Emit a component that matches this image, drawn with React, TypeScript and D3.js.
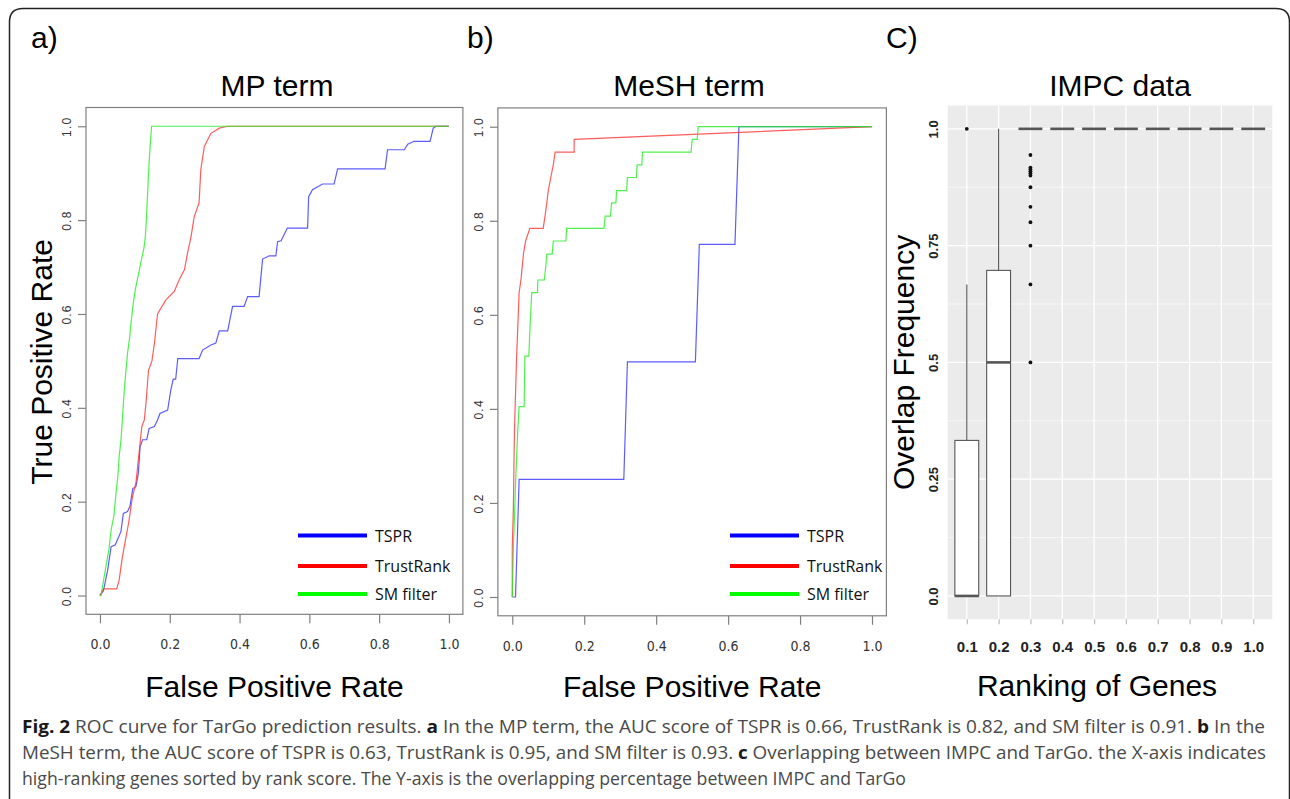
import React, { useEffect, useRef } from 'react';
import * as d3 from 'd3';

// ROC points [false positive rate, true positive rate], MP term
const mpTSPR = [
  [0, 0], [0.01, 0.01], [0.022, 0.054], [0.032, 0.104], [0.044, 0.108], [0.06, 0.136], [0.067, 0.175],
  [0.079, 0.179], [0.086, 0.19], [0.094, 0.228], [0.103, 0.232], [0.11, 0.261], [0.115, 0.317],
  [0.122, 0.332], [0.134, 0.332], [0.141, 0.356], [0.156, 0.36], [0.165, 0.374], [0.172, 0.388],
  [0.194, 0.395], [0.203, 0.438], [0.21, 0.461], [0.217, 0.461], [0.223, 0.505], [0.284, 0.505],
  [0.294, 0.523], [0.318, 0.534], [0.332, 0.538], [0.342, 0.564], [0.366, 0.564], [0.38, 0.616],
  [0.413, 0.616], [0.423, 0.637], [0.456, 0.637], [0.466, 0.717], [0.485, 0.724], [0.504, 0.724],
  [0.509, 0.754], [0.519, 0.756], [0.537, 0.783], [0.595, 0.783], [0.598, 0.85], [0.609, 0.865],
  [0.638, 0.877], [0.671, 0.877], [0.681, 0.909], [0.817, 0.909], [0.824, 0.95], [0.872, 0.95],
  [0.882, 0.962], [0.9, 0.968], [0.946, 0.968], [0.955, 0.996], [0.963, 1], [1, 1],
];
const mpTrustRank = [
  [0, 0], [0.01, 0.014], [0.048, 0.014], [0.055, 0.033], [0.063, 0.076], [0.073, 0.118], [0.082, 0.154],
  [0.093, 0.21], [0.103, 0.24], [0.11, 0.289], [0.115, 0.325], [0.12, 0.36], [0.127, 0.374],
  [0.132, 0.41], [0.139, 0.48], [0.149, 0.5], [0.156, 0.537], [0.165, 0.6], [0.189, 0.63],
  [0.213, 0.648], [0.227, 0.673], [0.242, 0.694], [0.251, 0.73], [0.261, 0.765], [0.27, 0.807],
  [0.284, 0.837], [0.289, 0.907], [0.299, 0.957], [0.318, 0.985], [0.342, 0.996], [0.366, 1], [1, 1],
];
const mpSMFilter = [
  [0, 0], [0.003, 0], [0.012, 0.04], [0.022, 0.083], [0.026, 0.1], [0.032, 0.14], [0.04, 0.17],
  [0.046, 0.218], [0.052, 0.26], [0.055, 0.296], [0.06, 0.33], [0.063, 0.36], [0.068, 0.42],
  [0.073, 0.467], [0.079, 0.516], [0.085, 0.55], [0.089, 0.581], [0.095, 0.62], [0.101, 0.651],
  [0.113, 0.694], [0.12, 0.72], [0.126, 0.74], [0.13, 0.765], [0.133, 0.8], [0.137, 0.865],
  [0.141, 0.925], [0.144, 0.96], [0.148, 1], [1, 1],
];

// MeSH term
const meshTSPR = [
  [0, 0], [0.009, 0], [0.019, 0.25], [0.31, 0.25], [0.32, 0.5], [0.509, 0.5], [0.52, 0.75],
  [0.619, 0.75], [0.63, 1], [1, 1],
];
const meshTrustRank = [
  [0, 0], [0, 0.107], [0.003, 0.189], [0.006, 0.351], [0.008, 0.405], [0.012, 0.511], [0.015, 0.568],
  [0.019, 0.647], [0.024, 0.674], [0.031, 0.729], [0.037, 0.757], [0.049, 0.784], [0.086, 0.784],
  [0.091, 0.81], [0.096, 0.838], [0.1, 0.864], [0.107, 0.892], [0.114, 0.919], [0.119, 0.946],
  [0.172, 0.946], [0.172, 0.973], [1, 1],
];
const meshSMFilter = [
  [0, 0], [0.003, 0.107], [0.007, 0.189], [0.009, 0.24], [0.015, 0.351], [0.019, 0.405], [0.033, 0.405],
  [0.035, 0.512], [0.046, 0.512], [0.049, 0.568], [0.054, 0.647], [0.07, 0.647], [0.071, 0.674],
  [0.089, 0.674], [0.093, 0.702], [0.096, 0.729], [0.111, 0.729], [0.114, 0.757], [0.149, 0.757],
  [0.151, 0.784], [0.255, 0.784], [0.258, 0.81], [0.273, 0.81], [0.276, 0.838], [0.288, 0.838],
  [0.29, 0.864], [0.318, 0.864], [0.32, 0.892], [0.345, 0.892], [0.347, 0.919], [0.36, 0.919],
  [0.362, 0.946], [0.497, 0.946], [0.5, 0.973], [0.514, 0.973], [0.517, 1], [1, 1],
];

const rocTicks = [0, 0.2, 0.4, 0.6, 0.8, 1.0];
const seriesNames = ['TSPR', 'TrustRank', 'SM filter'];
const curveColors = ['#3333ff', '#ff3333', '#22ee22'];
const legendColors = ['#0000ff', '#ff0000', '#00ff00'];

// IMPC boxplot, one entry per ranking bin
const rankLabels = ['0.1', '0.2', '0.3', '0.4', '0.5', '0.6', '0.7', '0.8', '0.9', '1.0'];
const boxLow = [0, 0, 1, 1, 1, 1, 1, 1, 1, 1];
const boxQ1 = [0, 0, 1, 1, 1, 1, 1, 1, 1, 1];
const boxMedian = [0, 0.5, 1, 1, 1, 1, 1, 1, 1, 1];
const boxQ3 = [0.333, 0.697, 1, 1, 1, 1, 1, 1, 1, 1];
const boxHigh = [0.667, 1, 1, 1, 1, 1, 1, 1, 1, 1];
const boxOutliers = [
  [1], [],
  [0.5, 0.667, 0.75, 0.8, 0.833, 0.875, 0.9, 0.905, 0.909, 0.913, 0.917, 0.944],
  [], [], [], [], [], [], [],
];
const overlapTicks = [0, 0.25, 0.5, 0.75, 1];
const overlapMinor = [0.125, 0.375, 0.625, 0.875];

const W = 1290;
const H = 799;
const SANS = 'Liberation Sans, Arial, sans-serif';

function drawRoc(svg, o) {
  const x = d3.scaleLinear().domain([-0.04, 1.04]).range([o.left, o.right]);
  const y = d3.scaleLinear().domain([-0.04, 1.04]).range([o.bottom, o.top]);
  const g = svg.append('g');

  const line = d3.line<number[]>().x((d) => x(d[0])).y((d) => y(d[1]));
  o.series.forEach((s, i) => {
    g.append('path')
      .datum(s)
      .attr('fill', 'none')
      .attr('stroke', curveColors[i])
      .attr('stroke-opacity', 0.8)
      .attr('stroke-width', 1.2)
      .attr('d', line);
  });

  g.append('rect')
    .attr('x', o.left).attr('y', o.top)
    .attr('width', o.right - o.left).attr('height', o.bottom - o.top)
    .attr('fill', 'none').attr('stroke', '#808080').attr('stroke-width', 1.2);

  // x axis
  const xa = g.append('g')
    .attr('transform', `translate(0,${o.bottom})`)
    .call(d3.axisBottom(x).tickValues(rocTicks).tickSize(9).tickPadding(16).tickFormat(d3.format('.1f')));
  xa.select('.domain').remove();
  xa.selectAll('line').attr('stroke', '#808080').attr('stroke-width', 1.2);
  xa.selectAll('text')
    .attr('font-family', 'Liberation Sans Narrow, DejaVu Sans Condensed, sans-serif')
    .attr('font-size', 14).attr('fill', '#333');

  // y axis, labels parallel to the axis
  const ya = g.append('g')
    .attr('transform', `translate(${o.left},0)`)
    .call(d3.axisLeft(y).tickValues(rocTicks).tickSize(8).tickFormat(d3.format('.1f')));
  ya.select('.domain').remove();
  ya.selectAll('line').attr('stroke', '#808080').attr('stroke-width', 1.2);
  ya.selectAll('text')
    .attr('transform', 'rotate(-90)')
    .attr('x', 0).attr('y', -15).attr('dy', 0)
    .attr('text-anchor', 'middle')
    .attr('font-family', SANS).attr('font-size', 12)
    .attr('letter-spacing', 1.2).attr('fill', '#333');

  // titles
  g.append('text').attr('x', o.tagX).attr('y', 48).attr('font-family', SANS).attr('font-size', 30).text(o.tag);
  g.append('text').attr('x', o.titleX).attr('y', 96).attr('text-anchor', 'middle')
    .attr('font-family', SANS).attr('font-size', 30).text(o.title);
  g.append('text').attr('x', x(0.5)).attr('y', 697).attr('text-anchor', 'middle')
    .attr('font-family', SANS).attr('font-size', 30).text('False Positive Rate');
  if (o.yTitle) {
    g.append('text')
      .attr('transform', `translate(52,${y(0.5) + 1}) rotate(-90)`)
      .attr('text-anchor', 'middle')
      .attr('font-family', SANS).attr('font-size', 30).text(o.yTitle);
  }

  // legend
  const ly = [535.5, 566, 594];
  seriesNames.forEach((name, i) => {
    g.append('line')
      .attr('x1', o.legendX).attr('x2', o.legendX + 69)
      .attr('y1', ly[i]).attr('y2', ly[i])
      .attr('stroke', legendColors[i]).attr('stroke-width', 4);
    g.append('text')
      .attr('x', o.legendX + 77).attr('y', ly[i] + 6)
      .attr('font-family', 'Open Sans, sans-serif').attr('font-size', 16).attr('fill', '#111')
      .text(name);
  });
}

function drawBoxes(svg) {
  const left = 947.7;
  const right = 1272.3;
  const top = 105.5;
  const bottom = 619.3;
  const x = d3.scalePoint<string>().domain(rankLabels).range([left, right]).padding(0.6);
  const y = d3.scaleLinear().domain([-0.05, 1.05]).range([bottom, top]);
  const bw = x.step() * 0.75;
  const g = svg.append('g');

  g.append('rect').attr('x', left).attr('y', top).attr('width', right - left).attr('height', bottom - top)
    .attr('fill', '#ebebeb');
  overlapMinor.forEach((v) => {
    g.append('line').attr('x1', left).attr('x2', right).attr('y1', y(v)).attr('y2', y(v))
      .attr('stroke', '#fff').attr('stroke-width', 0.6);
  });
  overlapTicks.forEach((v) => {
    g.append('line').attr('x1', left).attr('x2', right).attr('y1', y(v)).attr('y2', y(v))
      .attr('stroke', '#fff').attr('stroke-width', 1.3);
  });
  rankLabels.forEach((c) => {
    g.append('line').attr('x1', x(c)).attr('x2', x(c)).attr('y1', top).attr('y2', bottom)
      .attr('stroke', '#fff').attr('stroke-width', 1.3);
  });

  rankLabels.forEach((c, i) => {
    const cx = x(c);
    if (boxHigh[i] > boxQ3[i]) {
      g.append('line').attr('x1', cx).attr('x2', cx).attr('y1', y(boxQ3[i])).attr('y2', y(boxHigh[i]))
        .attr('stroke', '#555').attr('stroke-width', 1.1);
    }
    if (boxLow[i] < boxQ1[i]) {
      g.append('line').attr('x1', cx).attr('x2', cx).attr('y1', y(boxLow[i])).attr('y2', y(boxQ1[i]))
        .attr('stroke', '#555').attr('stroke-width', 1.1);
    }
    if (boxQ3[i] > boxQ1[i]) {
      g.append('rect').attr('x', cx - bw / 2).attr('width', bw)
        .attr('y', y(boxQ3[i])).attr('height', y(boxQ1[i]) - y(boxQ3[i]))
        .attr('fill', '#fff').attr('stroke', '#555').attr('stroke-width', 1.1);
    }
    g.append('line').attr('x1', cx - bw / 2).attr('x2', cx + bw / 2)
      .attr('y1', y(boxMedian[i])).attr('y2', y(boxMedian[i]))
      .attr('stroke', '#555').attr('stroke-width', 2.6);
    boxOutliers[i].forEach((v) => {
      g.append('circle').attr('cx', cx).attr('cy', y(v)).attr('r', 1.9).attr('fill', '#111');
    });
  });

  const xa = g.append('g').attr('transform', `translate(0,${bottom})`)
    .call(d3.axisBottom(x).tickSize(5).tickPadding(17));
  xa.select('.domain').remove();
  xa.selectAll('line').attr('stroke', '#bbb').attr('stroke-width', 1.2);
  xa.selectAll('text').attr('font-family', SANS).attr('font-weight', 'bold').attr('font-size', 15).attr('fill', '#222');

  const ya = g.append('g').attr('transform', `translate(${left},0)`)
    .call(d3.axisLeft(y).tickValues(overlapTicks).tickSize(0).tickFormat((d) => (d === 0 || d === 1 ? d3.format('.1f')(d) : String(d))));
  ya.select('.domain').remove();
  ya.selectAll('text')
    .attr('transform', 'rotate(-90)')
    .attr('x', 0).attr('y', -10).attr('dy', 0)
    .attr('text-anchor', 'middle')
    .attr('font-family', SANS).attr('font-weight', 'bold').attr('font-size', 13).attr('fill', '#222');

  g.append('text').attr('x', 886).attr('y', 48).attr('font-family', SANS).attr('font-size', 30).text('C)');
  g.append('text').attr('x', 1120).attr('y', 96).attr('text-anchor', 'middle')
    .attr('font-family', SANS).attr('font-size', 30).text('IMPC data');
  g.append('text').attr('x', 1097).attr('y', 696).attr('text-anchor', 'middle')
    .attr('font-family', SANS).attr('font-size', 30).text('Ranking of Genes');
  g.append('text')
    .attr('transform', `translate(914,${(top + bottom) / 2}) rotate(-90)`)
    .attr('text-anchor', 'middle')
    .attr('font-family', SANS).attr('font-size', 30).text('Overlap Frequency');
}

function drawCaption(svg) {
  const lines = [
    { y: 733, len: 1243, parts: [['Fig. 2', true], [' ROC curve for TarGo prediction results. ', false], ['a', true],
      [' In the MP term, the AUC score of TSPR is 0.66, TrustRank is 0.82, and SM filter is 0.91. ', false], ['b', true], [' In the', false]] },
    { y: 759, len: 1244, parts: [['MeSH term, the AUC score of TSPR is 0.63, TrustRank is 0.95, and SM filter is 0.93. ', false], ['c', true],
      [' Overlapping between IMPC and TarGo. the X-axis indicates', false]] },
    { y: 785, len: 884, parts: [['high-ranking genes sorted by rank score. The Y-axis is the overlapping percentage between IMPC and TarGo', false]] },
  ];
  lines.forEach((l) => {
    const t = svg.append('text').attr('x', 22).attr('y', l.y)
      .attr('textLength', l.len).attr('lengthAdjust', 'spacingAndGlyphs')
      .attr('font-family', 'Open Sans, sans-serif').attr('font-size', 18).attr('fill', '#4a4a4a')
      .attr('xml:space', 'preserve');
    l.parts.forEach(([s, b]) => {
      t.append('tspan').attr('font-weight', b ? 'bold' : 'normal').attr('fill', b ? '#1a1a1a' : '#4a4a4a').text(s);
    });
  });
}

const App = () => {
  const svgRef = useRef<SVGSVGElement>(null);

  useEffect(() => {
    document.body.style.margin = '0';
    const svg = d3.select(svgRef.current);
    svg.selectAll('*').remove();

    svg.append('rect').attr('width', W).attr('height', H).attr('fill', '#fff');
    svg.append('path')
      .attr('d', 'M9.5,799 L9.5,22 Q9.5,8.5 23,8.5 L1276,8.5 Q1289.5,8.5 1289.5,22 L1289.5,799')
      .attr('fill', 'none').attr('stroke', '#222').attr('stroke-width', 1.5);

    drawRoc(svg, {
      left: 86, right: 462.9, top: 107.5, bottom: 614.3,
      tag: 'a)', tagX: 31, title: 'MP term', titleX: 277, yTitle: 'True Positive Rate',
      series: [mpTSPR, mpTrustRank, mpSMFilter], legendX: 298,
    });
    drawRoc(svg, {
      left: 497.9, right: 886.4, top: 107.9, bottom: 615.8,
      tag: 'b)', tagX: 467, title: 'MeSH term', titleX: 689, yTitle: null,
      series: [meshTSPR, meshTrustRank, meshSMFilter], legendX: 730,
    });
    drawBoxes(svg);
    drawCaption(svg);
  }, []);

  return <svg ref={svgRef} width={W} height={H} style={{ display: 'block' }}></svg>;
};

export default App;
